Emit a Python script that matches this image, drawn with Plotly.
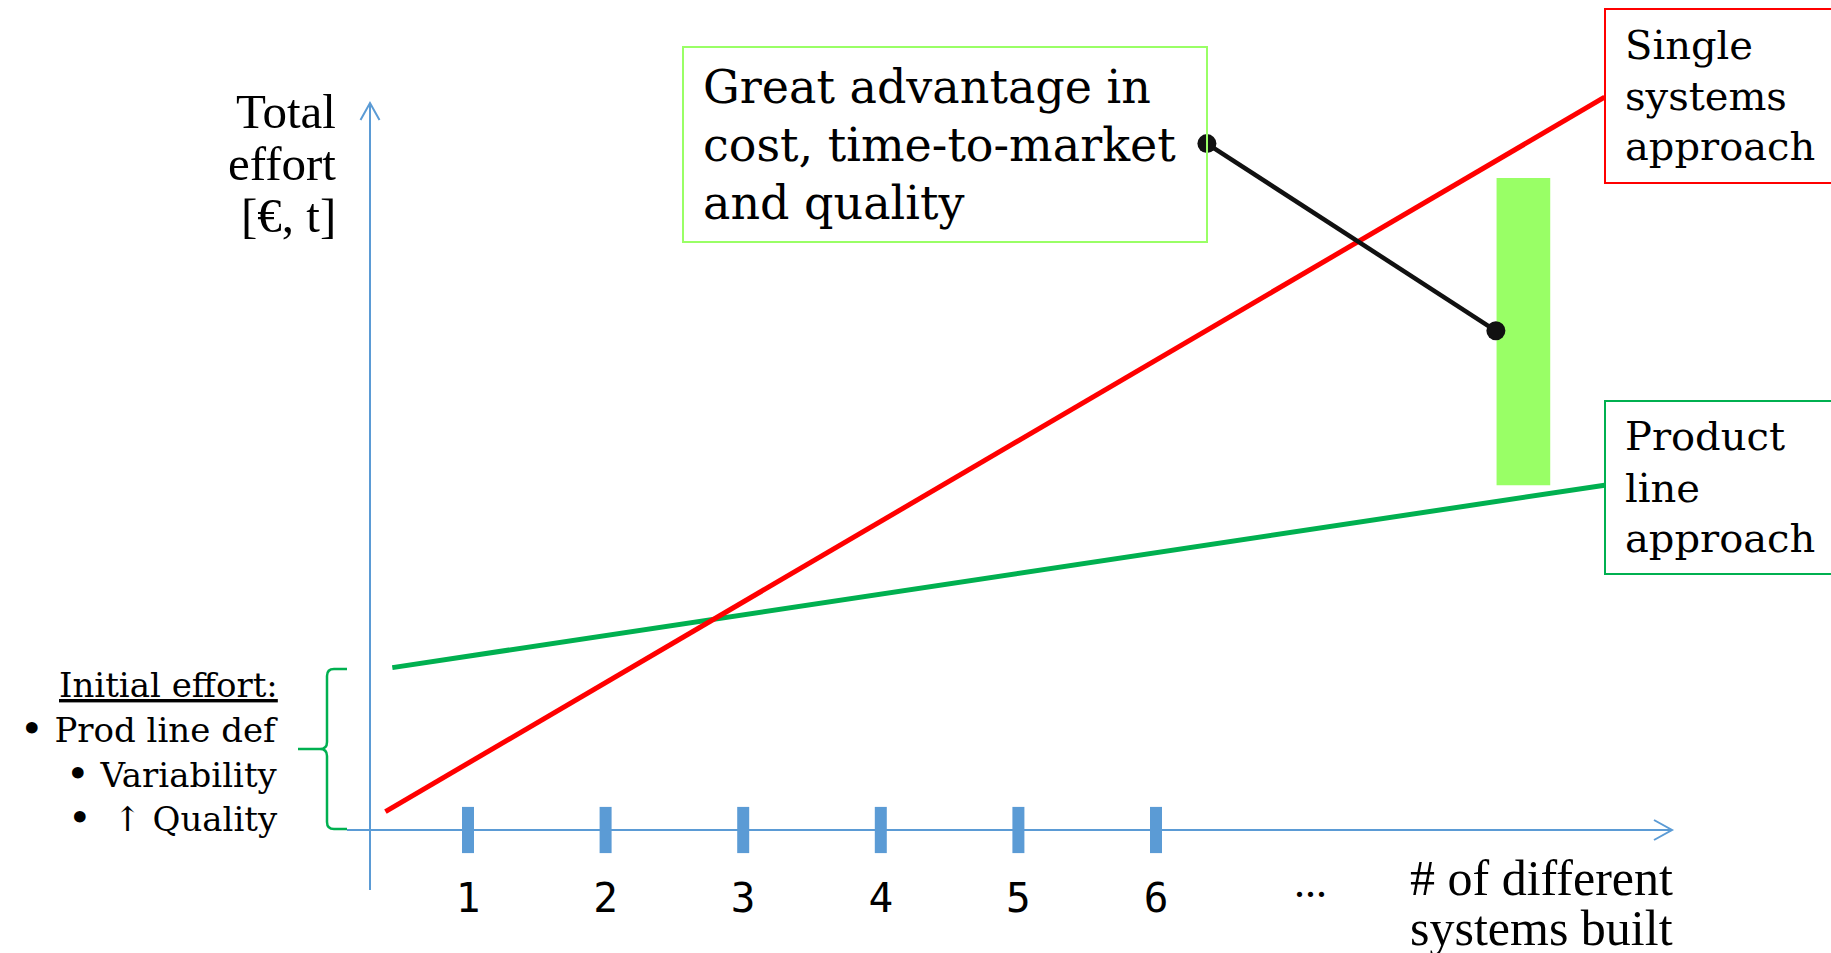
import plotly.graph_objects as go

W, H = 1831, 953

# ---------------- data ----------------
systems_ticks = [1, 2, 3, 4, 5, 6]
tick_labels = ["1", "2", "3", "4", "5", "6"]
ellipsis_pos = 7.12

single_x = [0.40, 9.26]          # single systems approach
single_y = [2.3, 91.6]
product_x = [0.45, 9.26]         # product line approach
product_y = [20.3, 43.1]

adv_x = [8.67]                   # advantage gap bar
adv_low = [43.1]
adv_high = [81.5]

callout_x = [6.37, 8.47]         # callout connector
callout_y = [85.8, 62.4]

X_RANGE = [-2.4012, 10.9055]
Y_RANGE = [-15.375, 103.75]

BLUE = "#5B9BD5"
RED = "#FF0000"
GREEN = "#00B050"
LIGHTGREEN = "#99FF66"
SERIF = "DejaVu Serif"
TIMES = "Liberation Serif"
MONO = "DejaVu Sans Mono"


def px(x, y):
    return x / W, 1 - y / H


fig = go.Figure()

fig.add_trace(go.Bar(
    x=adv_x, y=[h - l for h, l in zip(adv_high, adv_low)], base=adv_low,
    width=0.39, marker=dict(color=LIGHTGREEN, line=dict(width=0)),
))
fig.add_trace(go.Scatter(
    x=product_x, y=product_y, mode="lines",
    line=dict(color=GREEN, width=5),
))
fig.add_trace(go.Scatter(
    x=single_x, y=single_y, mode="lines",
    line=dict(color=RED, width=5),
))
fig.add_trace(go.Scatter(
    x=callout_x, y=callout_y, mode="lines+markers",
    line=dict(color="#111111", width=4.5),
    marker=dict(color="#111111", size=19),
    cliponaxis=False,
))
fig.add_trace(go.Scatter(
    x=systems_ticks, y=[0] * len(systems_ticks), mode="markers",
    marker=dict(symbol="line-ns", size=33, color=BLUE,
                line=dict(color=BLUE, width=12)),
    cliponaxis=False,
))

shapes = []


def seg(x0, y0, x1, y1, color, width):
    a, b = px(x0, y0)
    c, d = px(x1, y1)
    shapes.append(dict(type="line", xref="paper", yref="paper",
                       x0=a, y0=b, x1=c, y1=d,
                       line=dict(color=color, width=width)))


def path(cmds, color, width):
    out = []
    for c in cmds:
        if isinstance(c, str):
            out.append(c)
        else:
            a, b = px(*c)
            out.append(f"{a:.6f},{b:.6f}")
    shapes.append(dict(type="path", xref="paper", yref="paper",
                       path=" ".join(out),
                       line=dict(color=color, width=width)))


def rect(x0, y0, x1, y1, color, width):
    a, b = px(x0, y0)
    c, d = px(x1, y1)
    shapes.append(dict(type="rect", xref="paper", yref="paper",
                       x0=a, y0=b, x1=c, y1=d,
                       line=dict(color=color, width=width),
                       fillcolor="rgba(0,0,0,0)"))


# axes with open arrow heads
seg(370, 890, 370, 103, BLUE, 2)
path(["M", (360.5, 120), "L", (370, 103), "L", (379.5, 120)], BLUE, 2)
seg(347, 830, 1672, 830, BLUE, 2)
path(["M", (1654, 820), "L", (1672, 830), "L", (1654, 840)], BLUE, 2)

# brace
path(["M", (347, 669), "L", (334, 669), "Q", (327, 669), (327, 676),
      "L", (327, 742), "Q", (327, 749), (320, 749), "L", (298, 749),
      "M", (320, 749), "Q", (327, 749), (327, 756),
      "L", (327, 822), "Q", (327, 829), (334, 829), "L", (347, 829)],
     GREEN, 2.5)

# boxes
rect(683, 47, 1207, 242, LIGHTGREEN, 2)
rect(1605, 9, 1845, 183, RED, 2)
rect(1605, 401, 1845, 574, GREEN, 2)

annotations = []


def text_line(txt, x, baseline, size, family, anchor):
    yc = baseline - 0.34 * size
    a, b = px(x, yc)
    annotations.append(dict(
        x=a, y=b, xref="paper", yref="paper", text=txt, showarrow=False,
        xanchor=anchor, yanchor="middle", borderpad=0,
        font=dict(family=family, size=size, color="black")))


for t, bl in zip(["Great advantage in", "cost, time-to-market", "and quality"],
                 [103, 161, 219]):
    text_line(t, 702, bl, 46, SERIF, "left")

for t, bl in zip(["Single", "systems", "approach"], [59, 110, 160]):
    text_line(t, 1624, bl, 40, SERIF, "left")

for t, bl in zip(["Product", "line", "approach"], [450, 502, 552]):
    text_line(t, 1624, bl, 40, SERIF, "left")

for t, bl in zip(["Total", "effort", "[€, t]"], [128, 180, 232]):
    text_line(t, 337, bl, 49, TIMES, "right")

text_line("<u>Initial effort:</u>", 279, 697, 34, SERIF, "right")
BUL = '<span style="font-size:40px">•</span>'
for t, bl in zip([BUL + " Prod line def", BUL + " Variability",
                  BUL + "  ↑ Quality"],
                 [740, 785, 829]):
    text_line(t, 279, bl, 34, SERIF, "right")

for t, bl in zip(["# of different", "systems built"], [895, 945]):
    text_line(t, 1674, bl, 50, TIMES, "right")

# ellipsis label on the x axis
ex = (ellipsis_pos - X_RANGE[0]) / (X_RANGE[1] - X_RANGE[0]) * W
text_line("...", ex, 897, 44, TIMES, "center")

fig.update_layout(
    width=W, height=H,
    margin=dict(l=0, r=0, t=0, b=0),
    paper_bgcolor="white", plot_bgcolor="white",
    showlegend=False,
    shapes=shapes,
    annotations=annotations,
    xaxis=dict(range=X_RANGE, domain=[0, 1], anchor="free",
               position=1 - 830 / H,
               showgrid=False, zeroline=False, showline=False,
               tickmode="array", tickvals=systems_ticks, ticktext=tick_labels,
               ticks="outside", ticklen=32, tickcolor="rgba(0,0,0,0)",
               tickfont=dict(family=MONO, size=41, color="black")),
    yaxis=dict(range=Y_RANGE, domain=[0, 1], visible=False,
               showgrid=False, zeroline=False),
)

fig.write_html("out.html")
